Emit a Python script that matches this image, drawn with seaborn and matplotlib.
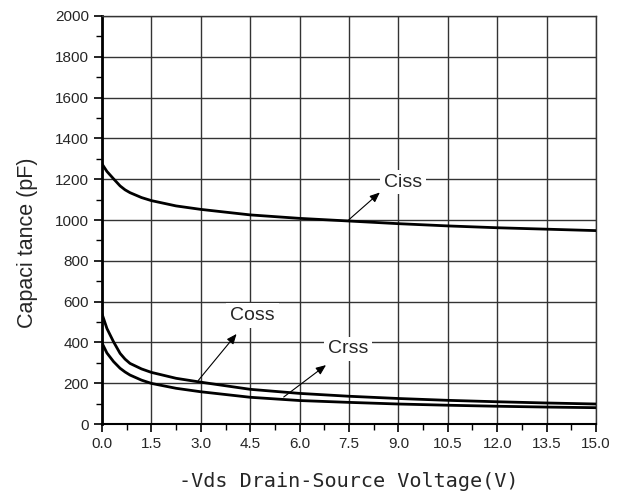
import matplotlib
matplotlib.use("Agg")
import matplotlib.pyplot as plt
import seaborn as sns
import pandas as pd
import numpy as np
from matplotlib.ticker import MultipleLocator

vds = [0, 0.15, 0.35, 0.55, 0.7, 0.85, 1.2, 1.5, 2.25, 3.0, 4.5, 6.0, 7.5, 9.0, 10.5, 12.0, 13.5, 15.0]
ciss = [1275, 1238, 1202, 1167, 1148, 1134, 1110, 1095, 1069, 1052, 1025, 1008, 995, 982, 971, 962, 955, 948]
coss = [540, 468, 403, 346, 318, 297, 270, 253, 224, 205, 170, 150, 136, 125, 116, 109, 103, 98]
crss = [397, 348, 306, 273, 255, 240, 215, 199, 175, 158, 131, 115, 106, 98, 92, 87, 83, 80]

x_ticks = [0.0, 1.5, 3.0, 4.5, 6.0, 7.5, 9.0, 10.5, 12.0, 13.5, 15.0]
y_ticks = [0, 200, 400, 600, 800, 1000, 1200, 1400, 1600, 1800, 2000]

df = pd.concat([
    pd.DataFrame({"Vds": vds, "C": ciss, "series": "Ciss"}),
    pd.DataFrame({"Vds": vds, "C": coss, "series": "Coss"}),
    pd.DataFrame({"Vds": vds, "C": crss, "series": "Crss"}),
])

sns.set_style("white")
plt.rcParams["font.family"] = ["Liberation Sans", "DejaVu Sans"]

fig = plt.figure(figsize=(6.22, 4.96), dpi=100)
ax = fig.add_axes([102/622, 1-424/496, (596-102)/622, (424-16)/496])

sns.lineplot(data=df, x="Vds", y="C", hue="series",
             palette={"Ciss": "black", "Coss": "black", "Crss": "black"},
             linewidth=2.0, legend=False, ax=ax, zorder=3)

ax.set_xlim(0, 15)
ax.set_ylim(0, 2000)
ax.set_xticks(x_ticks)
ax.set_xticklabels([f"{v:.1f}" for v in x_ticks])
ax.set_yticks(y_ticks)
ax.set_yticklabels([str(v) for v in y_ticks])
ax.xaxis.set_minor_locator(MultipleLocator(0.75))
ax.yaxis.set_minor_locator(MultipleLocator(100))

ax.grid(True, which="major", color="#333333", linewidth=1.0)
ax.set_axisbelow(True)

for side in ["top", "right"]:
    ax.spines[side].set_visible(True)
    ax.spines[side].set_color("#333333")
    ax.spines[side].set_linewidth(1.0)
ax.spines["left"].set_color("black")
ax.spines["left"].set_linewidth(2.0)
ax.spines["bottom"].set_color("black")
ax.spines["bottom"].set_linewidth(1.5)

ax.tick_params(axis="both", which="major", direction="out", length=6, width=1.2,
               labelsize=11, color="black", bottom=True, left=True)
ax.tick_params(axis="both", which="minor", direction="out", length=4, width=1.0,
               color="black", bottom=True, left=True)

ax.set_xlabel("-Vds Drain-Source Voltage(V)", family=["DejaVu Sans Mono"], fontsize=14.5, labelpad=15)
ax.set_ylabel("Capaci tance (pF)", fontsize=15.5)
ax.yaxis.set_label_coords(-0.13, 0.445)

arrow = dict(arrowstyle="-|>,head_length=0.6,head_width=0.25", color="black", lw=0.8)
bbox = dict(boxstyle="square,pad=0.2", fc="white", ec="none")
# Ciss
ax.annotate("", xy=(8.5, 1144), xytext=(7.43, 992), arrowprops=arrow, zorder=4)
ax.text(9.14, 1186, "Ciss", fontsize=14, ha="center", va="center", bbox=bbox, zorder=4)
# Coss
ax.annotate("", xy=(4.14, 452), xytext=(2.87, 203), arrowprops=arrow, zorder=4)
ax.text(4.57, 531, "Coss", fontsize=14, ha="center", va="center", bbox=bbox, zorder=4)
# Crss
ax.annotate("", xy=(6.87, 297), xytext=(5.45, 124), arrowprops=arrow, zorder=4)
ax.text(7.47, 368, "Crss", fontsize=14, ha="center", va="center", bbox=bbox, zorder=4)

fig.savefig("out.png", dpi=100)
